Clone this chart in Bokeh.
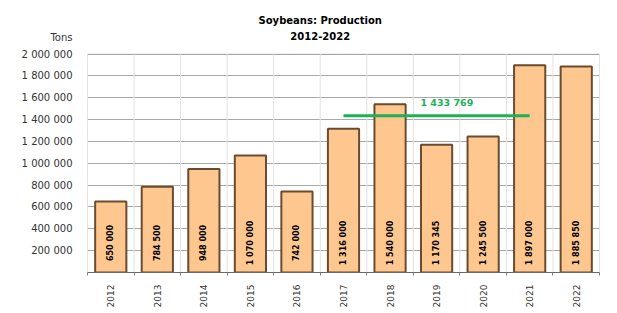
import math
from bokeh.plotting import figure
from bokeh.models import (ColumnDataSource, Range1d, FixedTicker, Label,
                          BoxAnnotation)
from bokeh.core.properties import value
from bokeh.embed import file_html
from bokeh.resources import INLINE

# ---- data ----
years = ["2012", "2013", "2014", "2015", "2016", "2017", "2018", "2019",
         "2020", "2021", "2022"]
production = [650000, 784500, 948000, 1070000, 742000, 1316000, 1540000,
              1170345, 1245500, 1897000, 1885850]
bar_labels = ["650 000", "784 500", "948 000", "1 070 000", "742 000",
              "1 316 000", "1 540 000", "1 170 345", "1 245 500",
              "1 897 000", "1 885 850"]
avg_value = 1433769
avg_label = "1 433 769"
avg_start_year = "2017"
avg_end_year = "2021"
y_ticks = [0, 200000, 400000, 600000, 800000, 1000000, 1200000, 1400000,
           1600000, 1800000, 2000000]
y_max = 2000000
title_line1 = "Soybeans: Production"
title_line2 = "2012-2022"
unit_label = "Tons"

FONT = "DejaVu Sans"

def fmt(v):
    return "{:,}".format(v).replace(",", " ")

n = len(years)
centers = [i + 0.5 for i in range(n)]
bounds = list(range(n + 1))

# extra head-room above the plot area holds the title and unit label
y_top = 2380000
unit_y = 2154000

p = figure(width=612, height=310, output_backend="svg", toolbar_location=None,
           x_range=Range1d(0, n), y_range=Range1d(0, y_top),
           min_border_left=87, min_border_right=13, min_border_top=12,
           min_border_bottom=35, title=None)
p.outline_line_color = None
p.background_fill_color = "white"
p.border_fill_color = "white"

# grids
p.ygrid.ticker = FixedTicker(ticks=y_ticks)
p.ygrid.grid_line_color = "#a8a8a8"
p.ygrid.grid_line_width = 1
p.xgrid.visible = False

# faint vertical lines at category boundaries, limited to the plot area
p.segment(x0=bounds, y0=[0] * len(bounds), x1=bounds,
          y1=[y_max] * len(bounds), line_color="#e2e2e2", line_width=1)

# plot-area border
p.add_layout(BoxAnnotation(left=0, right=n, bottom=0, top=y_max,
                           fill_color=None, line_color="#9c9c9c",
                           line_width=1, level="overlay"))

# y axis (the unit label sits as a tick label above the plot area)
ya = p.yaxis[0]
ya.ticker = FixedTicker(ticks=y_ticks + [unit_y])
overrides = {t: (fmt(t) if t > 0 else "") for t in y_ticks}
overrides[unit_y] = unit_label
ya.major_label_overrides = overrides
ya.axis_line_color = None
ya.major_tick_line_color = None
ya.minor_tick_line_color = None
ya.major_label_standoff = 9
ya.major_label_text_font = FONT
ya.major_label_text_font_size = "10px"
ya.major_label_text_color = "#333333"

# x axis
xa = p.xaxis[0]
xa.ticker = FixedTicker(ticks=centers, minor_ticks=bounds)
xa.major_label_overrides = {c: y for c, y in zip(centers, years)}
xa.major_label_orientation = math.pi / 2
xa.major_tick_line_color = None
xa.minor_tick_line_color = "#808080"
xa.minor_tick_out = 3
xa.minor_tick_in = 0
xa.axis_line_color = "#606060"
xa.major_label_standoff = 6
xa.major_label_text_font = FONT
xa.major_label_text_font_size = "9px"
xa.major_label_text_color = "#333333"

src = ColumnDataSource(dict(x=centers, top=production, lab=bar_labels,
                            ly=[270000] * n))

p.vbar(x="x", top="top", width=0.67, bottom=0, source=src,
       fill_color="#ffc790", line_color="#6b4a2e", line_width=2)

p.text(x="x", y="ly", text="lab", source=src, angle=math.pi / 2,
       text_align="center", text_baseline="middle",
       text_font=value(FONT), text_font_size="8px", text_font_style="bold",
       text_color="black")

# average line
i0 = years.index(avg_start_year)
i1 = years.index(avg_end_year)
p.line(x=[centers[i0], centers[i1]], y=[avg_value, avg_value],
       line_color="#1db157", line_width=3)
p.add_layout(Label(x=7.72, y=1556000, text=avg_label, text_align="center",
                   text_baseline="middle", text_font=FONT,
                   text_font_size="9.5px", text_font_style="bold",
                   text_color="#1db157"))

# title (two lines)
p.add_layout(Label(x=5.0, y=2307000, text=title_line1, text_align="center",
                   text_baseline="middle", text_font=FONT,
                   text_font_size="10px", text_font_style="bold",
                   text_color="black"))
p.add_layout(Label(x=5.0, y=2163000, text=title_line2, text_align="center",
                   text_baseline="middle", text_font=FONT,
                   text_font_size="10px", text_font_style="bold",
                   text_color="black"))

open("out.html", "w").write(file_html(p, INLINE))
